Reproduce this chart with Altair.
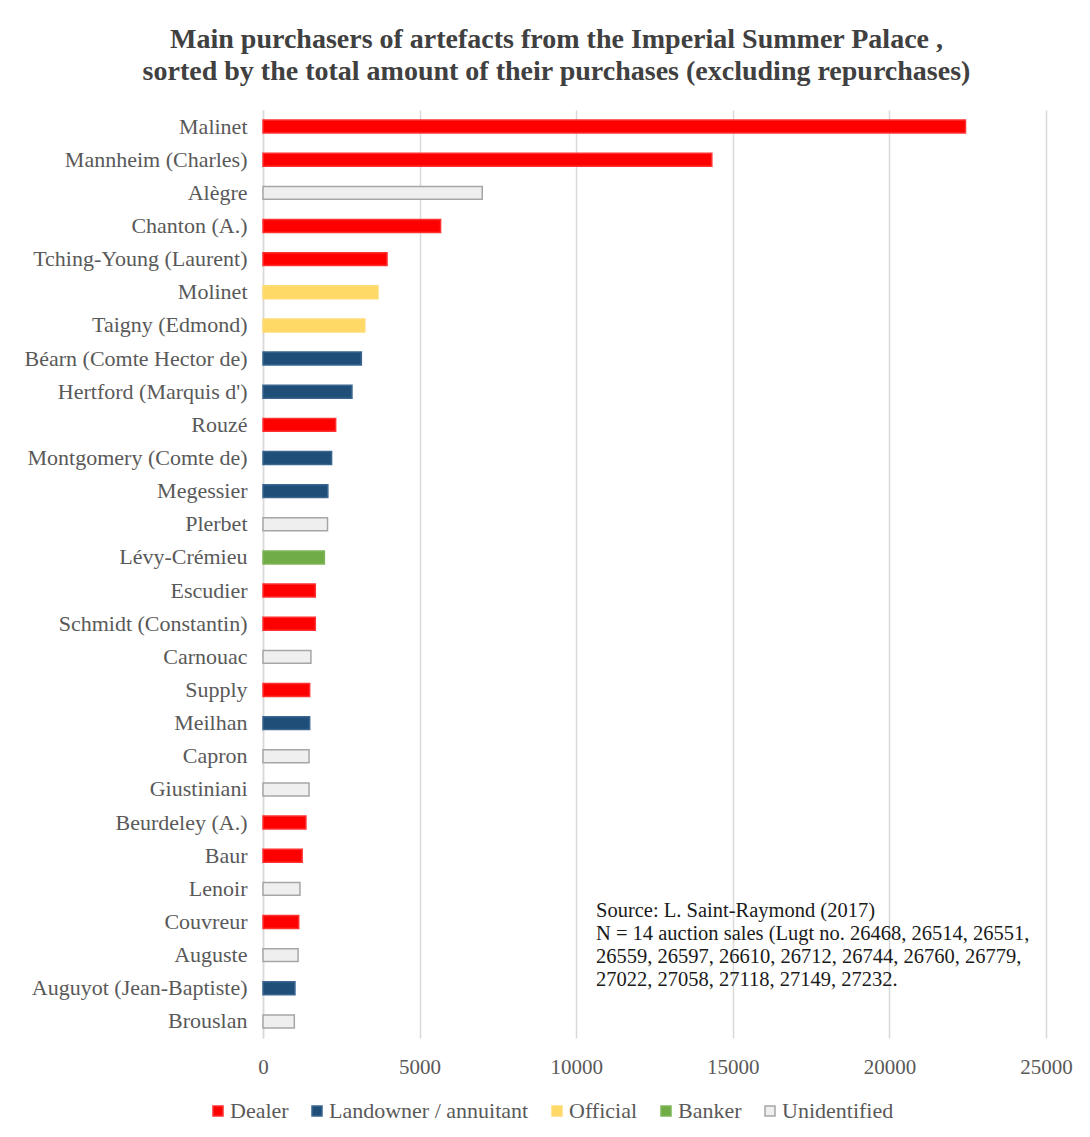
import altair as alt
import pandas as pd

names = ["Malinet", "Mannheim (Charles)", "Alègre", "Chanton (A.)", "Tching-Young (Laurent)",
         "Molinet", "Taigny (Edmond)", "Béarn (Comte Hector de)", "Hertford (Marquis d')", "Rouzé",
         "Montgomery (Comte de)", "Megessier", "Plerbet", "Lévy-Crémieu", "Escudier",
         "Schmidt (Constantin)", "Carnouac", "Supply", "Meilhan", "Capron", "Giustiniani",
         "Beurdeley (A.)", "Baur", "Lenoir", "Couvreur", "Auguste", "Auguyot (Jean-Baptiste)", "Brouslan"]
amounts = [22430, 14330, 7000, 5670, 3960, 3670, 3250, 3140, 2840, 2320, 2190, 2070, 2060, 1960,
           1670, 1670, 1530, 1490, 1490, 1470, 1470, 1370, 1250, 1180, 1140, 1120, 1020, 1000]
D, L, O, B, U = "Dealer", "Landowner / annuitant", "Official", "Banker", "Unidentified"
types = [D, D, U, D, D, O, O, L, L, D, L, L, U, B, D, D, U, D, L, U, U, D, D, U, D, U, L, U]

type_order = [D, L, O, B, U]
fill_colors = ["#FF0000", "#1F4E79", "#FFD966", "#70AD47", "#EFEFEF"]
stroke_colors = ["#FF3030", "#3A6690", "#FFDC75", "#7FB55A", "#A6A6A6"]
x_ticks = [0, 5000, 10000, 15000, 20000, 25000]

title_lines = ["Main purchasers of artefacts from the Imperial Summer Palace ,",
               "sorted by the total amount of their purchases (excluding repurchases)"]
source_lines = ["Source: L. Saint-Raymond (2017)",
                "N = 14 auction sales (Lugt no. 26468, 26514, 26551,",
                "26559, 26597, 26610, 26712, 26744, 26760, 26779,",
                "27022, 27058, 27118, 27149, 27232."]

df = pd.DataFrame({"name": names, "amount": amounts, "type": types})

SERIF = "Liberation Serif"


def legend():
    return alt.Legend(title="", orient="none", legendX=-56, legendY=990,
                      direction="horizontal", columns=5, symbolType="square",
                      symbolSize=100, symbolStrokeWidth=1.5, labelFont=SERIF,
                      labelFontSize=22, labelColor="#595959", columnPadding=17,
                      labelOffset=1, padding=0, labelLimit=400)


bars = alt.Chart(df).mark_bar(strokeWidth=1.5).encode(
    x=alt.X("amount:Q", scale=alt.Scale(domain=[0, 25000], nice=False),
            axis=alt.Axis(values=x_ticks, format="d", grid=True, gridColor="#D9D9D9",
                          gridWidth=1.5, domain=False, ticks=False, labelFont=SERIF,
                          labelFontSize=21, labelColor="#595959", labelPadding=18,
                          labelFlush=False, title="")),
    y=alt.Y("name:N", sort=names,
            scale=alt.Scale(paddingInner=0.61, paddingOuter=0.305),
            axis=alt.Axis(ticks=False, domain=True, domainColor="#D9D9D9", domainWidth=1.5,
                          labelFont=SERIF, labelFontSize=22, labelColor="#595959",
                          labelPadding=16, title="", labelLimit=400)),
    fill=alt.Fill("type:N", scale=alt.Scale(domain=type_order, range=fill_colors),
                  legend=legend()),
    stroke=alt.Stroke("type:N", scale=alt.Scale(domain=type_order, range=stroke_colors),
                      legend=legend()),
)

source = alt.Chart(pd.DataFrame({"t": [0]})).mark_text(
    align="left", baseline="top", font=SERIF, fontSize=20.5, color="#1A1A1A", lineHeight=23
).encode(x=alt.value(333), y=alt.value(791), text=alt.value(source_lines))

chart = alt.layer(bars, source).properties(
    width=783, height=928,
    autosize=alt.AutoSizeParams(type="none"),
    padding={"left": 255, "top": 102, "right": 36, "bottom": 91},
    background="white",
    title=alt.Title(title_lines, anchor="middle", dx=-98, offset=24, font=SERIF,
                    fontSize=28, fontWeight="bold", color="#404040", lineHeight=32),
).configure_view(stroke="transparent", strokeWidth=0)

chart.save("out.html", embed_options={"renderer": "svg", "actions": False})
